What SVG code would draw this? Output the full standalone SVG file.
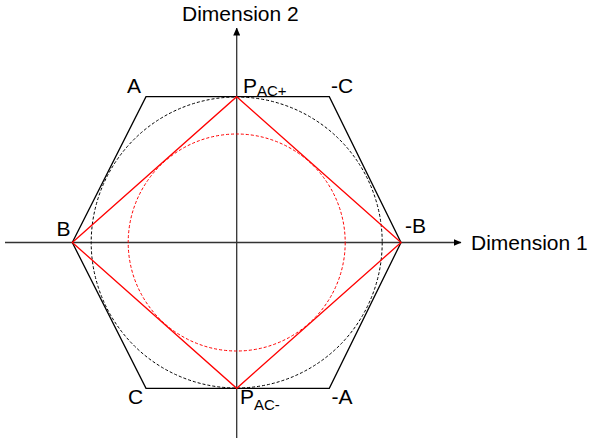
<svg xmlns="http://www.w3.org/2000/svg" width="589" height="438" viewBox="0 0 589 438">
<defs>
<style>
text{font-family:"Liberation Sans",Arial,sans-serif;font-size:21px;fill:#000}
.sub{font-size:15px}
.axis{stroke:#333;stroke-width:1.3;fill:none}
.hex{stroke:#000;stroke-width:1.3;fill:none}
.red{stroke:#f00;stroke-width:1.3;fill:none}
.dash{stroke-width:1;fill:none;stroke-dasharray:3 2}
</style>
<marker id="arr" markerWidth="8" markerHeight="7" refX="7.5" refY="3.5" orient="auto" markerUnits="userSpaceOnUse">
<path d="M0,0 L8,3.5 L0,7 Z" fill="#000"/>
</marker>
</defs>
<rect width="589" height="438" fill="#fff"/>
<g id="connectors">
<line class="axis" x1="5" y1="242.5" x2="461" y2="242.5" marker-end="url(#arr)"/>
<line class="axis" x1="236.7" y1="438" x2="236.7" y2="28" marker-end="url(#arr)"/>
</g>
<g id="hexagon">
<polygon class="hex" points="146,96.7 329.3,96.7 401,242.5 329.3,388.3 146,388.3 72.3,242.5"/>
</g>
<g id="outer-circle">
<circle class="dash" stroke="#000" cx="236.7" cy="242.5" r="145.5"/>
</g>
<g id="diamond">
<polygon class="red" points="236.7,96.7 401,242.5 236.7,388.3 72.3,242.5"/>
</g>
<g id="inner-circle">
<circle class="dash" stroke="#f00" cx="236.7" cy="242.5" r="108.5"/>
</g>
<g id="labels">
<text x="182" y="20.5">Dimension 2</text>
<text x="471" y="250">Dimension 1</text>
<text x="127" y="92.7">A</text>
<text x="331" y="92.7">-C</text>
<text x="243" y="92.7">P<tspan class="sub" dy="3.5">AC+</tspan></text>
<text x="56.5" y="236">B</text>
<text x="405" y="233">-B</text>
<text x="128" y="404">C</text>
<text x="240" y="404">P<tspan class="sub" dy="6">AC-</tspan></text>
<text x="331.5" y="404">-A</text>
</g>
</svg>
